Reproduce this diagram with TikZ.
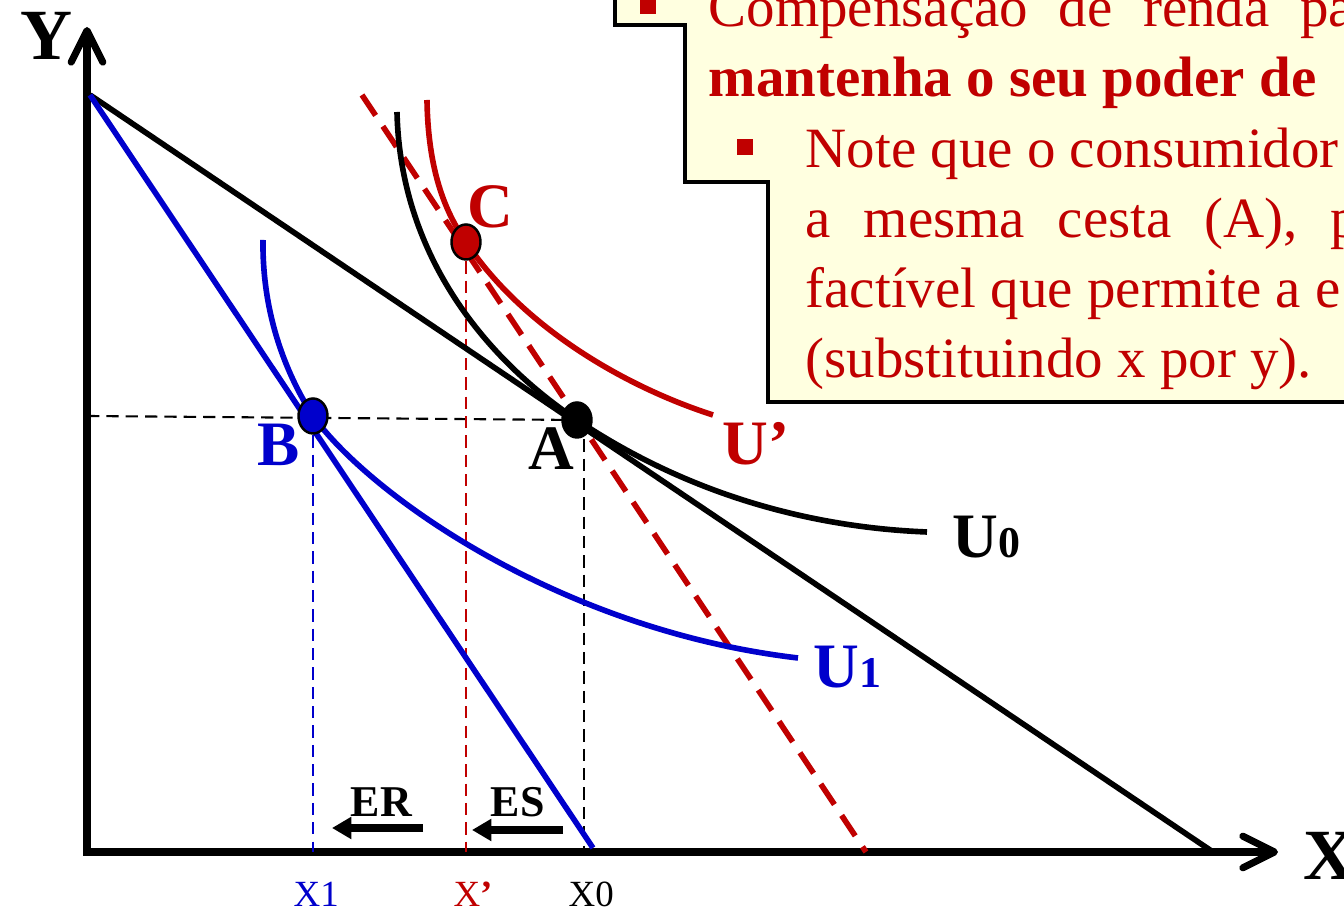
\documentclass[tikz,border=0pt]{standalone}
\usepackage{fontspec}
\setmainfont{Liberation Serif}
\usepackage{tikz}
\usetikzlibrary{arrows.meta,shapes.geometric}
\definecolor{slidered}{RGB}{192,0,0}
\definecolor{slideblue}{RGB}{0,0,204}
\definecolor{notefill}{RGB}{255,255,224}

\begin{document}
\begin{tikzpicture}[x=0.01cm, y=-0.01cm,
  axisline/.style={line width=2pt, line join=miter,
    {Straight Barb[length=9pt,width=9pt,round]}-{Straight Barb[length=9pt,width=9pt,round]}},
  budget/.style={line width=1.6pt},
  icurve/.style={line width=1.6pt},
  guide/.style={line width=0.6pt, dash pattern=on 3.5pt off 2pt},
  bundle/.style={ellipse, draw=black, line width=0.7pt, minimum width=0.29cm, minimum height=0.35cm, inner sep=0pt},
  ptlabel/.style={font=\fontsize{18}{18}\selectfont\bfseries, inner sep=0pt, anchor=base west},
  axlabel/.style={font=\fontsize{20.5}{20.5}\selectfont\bfseries, inner sep=0pt, anchor=base west},
  ticklabel/.style={font=\fontsize{10.5}{10.5}\selectfont, inner sep=0pt, anchor=base west},
  effect/.style={font=\fontsize{12.5}{12.5}\selectfont\bfseries, inner sep=0pt, anchor=base west},
  shiftarrow/.style={line width=2pt, -{Triangle[length=5.5pt,width=6pt]}},
  notetxt/.style={font=\fontsize{16.2}{19.9}\selectfont, text=slidered, inner sep=0pt, anchor=base west},
  notebullet/.style={rectangle, fill=slidered, minimum size=0.16cm, inner sep=0pt}]

\useasboundingbox (0,0) rectangle (1344,910);
\fill[white] (0,0) rectangle (1344,910);
\clip (0,0) rectangle (1344,910);

% 1. Note box (stepped outline)
\filldraw[fill=notefill, draw=black, line width=1.4pt]
  (615,-20) -- (615,25) -- (685,25) -- (685,182) -- (768,182) -- (768,402) -- (1380,402) -- (1380,-20) -- cycle;
\node[notebullet] (bul1) at (648,6) {};
\node[notetxt] (note1) at (708,27) {\makebox[6.45cm][s]{Compensação de renda pa}};
\node[notetxt, font=\fontsize{16.2}{19.9}\selectfont\bfseries] (note2) at (708,97) {mantenha o seu poder de};
\node[notebullet] (bul2) at (745,147) {};
\node[notetxt] (note3) at (805,168) {Note que o consumidor};
\node[notetxt] (note4) at (805,238) {\makebox[5.53cm][s]{a mesma cesta (A), p}};
\node[notetxt] (note5) at (805,308) {factível que permite a e};
\node[notetxt] (note6) at (805,378) {(substituindo x por y).};

% 2. Axes
\coordinate (O) at (87,852);
\coordinate (ytip) at (87,27);
\coordinate (xtip) at (1278,852);
\draw[axisline] (ytip) -- (O) -- (xtip);
\node[axlabel] (ylab) at (20,60) {Y};
\node[axlabel] (xlab) at (1303,880) {X};

% 3. Bundles
\coordinate (a) at (577,420);
\coordinate (b) at (313,416);
\coordinate (c) at (466,242);

% 4. Guide lines
\draw[guide] (O |- b) -- (a);
\draw[guide] ([xshift=0.07cm]a) -- ([xshift=0.07cm]a |- O);
\draw[guide, slideblue] (b) -- (b |- O);
\draw[guide, slidered] (c) -- (c |- O);

% 5. Budget lines
\coordinate (ytop) at (90,95);
\draw[budget] (ytop) -- (1213,852);
\draw[budget, slideblue] (ytop) -- (593,848);
\draw[budget, slidered, dash pattern=on 7pt off 3.7pt] (362,95) -- (866,852);

% 6. Indifference curves
\draw[icurve] (397,112) .. controls (400,250) and (480,355) .. (a)
  .. controls (680,489) and (800,527) .. (927,532);
\draw[icurve, slidered] (427,100) .. controls (428,170) and (445,212) .. (c)
  .. controls (520,324) and (620,385) .. (713,415);
\draw[icurve, slideblue] (263,240) .. controls (262,320) and (290,380) .. (b)
  .. controls (370,495) and (560,630) .. (798,658);

% 7. Bundle points and labels
\node[bundle, fill=black] (A) at (a) {};
\node[bundle, fill=slideblue] (B) at (b) {};
\node[bundle, fill=slidered] (C) at (c) {};
\node[ptlabel] (Alab) at (528,470) {A};
\node[ptlabel, slideblue] (Blab) at (257,466) {B};
\node[ptlabel, slidered] (Clab) at (467,228) {C};
\node[ptlabel, slidered] (Uplab) at (722,465) {U’};
\node[ptlabel] (U0lab) at (952,558) {U{\fontsize{12.5}{12.5}\selectfont 0}};
\node[ptlabel, slideblue] (U1lab) at (813,688) {U{\fontsize{12.5}{12.5}\selectfont 1}};

% 8. Effects on x
\node[effect] (ER) at (350,817) {ER};
\node[effect] (ES) at (490,817) {ES};
\coordinate (ers) at (423,828);
\coordinate (ere) at (332,828);
\coordinate (ess) at (563,830);
\coordinate (ese) at (472,830);
\draw[shiftarrow] (ers) -- (ere);
\draw[shiftarrow] (ess) -- (ese);
\node[ticklabel, slideblue] (x1lab) at (293,907) {X1};
\node[ticklabel, slidered] (xplab) at (453,907) {X\textbf{’}};
\node[ticklabel] (x0lab) at (568,907) {X0};

\end{tikzpicture}
\end{document}
